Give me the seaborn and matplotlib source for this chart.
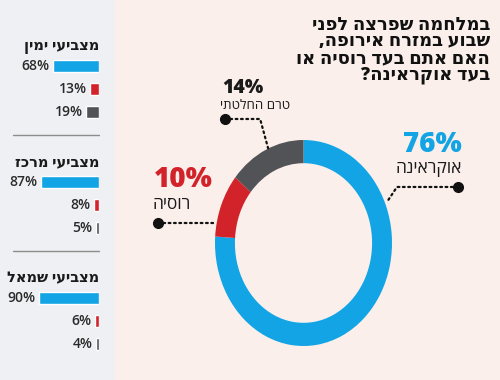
import matplotlib
matplotlib.use('Agg')
import matplotlib.pyplot as plt
from matplotlib.patches import Rectangle
from matplotlib.lines import Line2D
import numpy as np
import seaborn as sns

# data
groups = ['מצביעי ימין', 'מצביעי מרכז', 'מצביעי שמאל']
answers = ['אוקראינה', 'רוסיה', 'טרם החלטתי']
right_votes = [68, 13, 19]
center_votes = [87, 8, 5]
left_votes = [90, 6, 4]
overall = [76, 10, 14]
title_lines = ['במלחמה שפרצה לפני', 'שבוע במזרח אירופה,', 'האם אתם בעד רוסיה או', 'בעד אוקראינה?']

colors = ['#12A4E4', '#D2232A', '#525357']
LEFT_BG = '#EEF0F3'
RIGHT_BG = '#FAEFEB'
FONT = ['Open Sans', 'DejaVu Sans']

sns.set_theme(style='white')
plt.rcParams['font.family'] = FONT

W, H = 500, 380
fig = plt.figure(figsize=(W / 100, H / 100), dpi=100, facecolor=RIGHT_BG)


def rtl(s):
    # matplotlib has no bidi support, so flip Hebrew for display
    return s[::-1]


def fx(px):
    return px / W


def fy(py):
    return 1 - py / H


# left panel background
fig.add_artist(Rectangle((0, 0), fx(115), 1, transform=fig.transFigure,
                         facecolor=LEFT_BG, edgecolor='none', zorder=-1))

# small bar charts per voter group
for i, (grp, vals) in enumerate(zip(groups, [right_votes, center_votes, left_votes])):
    top = 54.5 + 116 * i
    ax = fig.add_axes([fx(32), fy(top + 69), fx(67), 69 / H])
    labels = [rtl(a) for a in answers]
    sns.barplot(x=vals, y=labels, hue=labels, palette=colors, orient='h',
                ax=ax, legend=False, width=0.55, saturation=1)
    ax.set_xlim(100, 0)
    for c in ax.containers:
        ax.bar_label(c, fmt='%d%%', padding=2.5, fontsize=10, color='#2a2a2a',
                     fontweight='semibold')
    ax.set_title(rtl(grp), loc='right', pad=3, fontsize=10.5, fontweight='heavy',
                 color='#1a1a1a')
    ax.axis('off')
    if i < 2:
        yl = top + 80.5
        fig.add_artist(Line2D([fx(13), fx(99)], [fy(yl), fy(yl)], color='#8c8c8c', lw=1))

# donut
pax = fig.add_axes([fx(215), fy(346), fx(177), 206 / H])
pax.pie(overall, colors=colors, startangle=90, counterclock=False,
        wedgeprops=dict(width=0.225, edgecolor='none'))
pax.set_aspect('auto')
pax.set_xlim(-1, 1)
pax.set_ylim(-1, 1)
pax.axis('off')

# leader lines (dot + dotted path), in donut axes units
leaders = [
    [(1.746, 0.544), (1.056, 0.544), (0.943, 0.398)],
    [(-1.644, 0.194), (-1.0, 0.194)],
    [(-0.887, 1.204), (-0.49, 1.204), (-0.40, 0.92)],
]
for pts in leaders:
    xs, ys = zip(*pts)
    pax.plot(xs, ys, color='#111111', lw=1.6, ls=(0, (0.8, 1.6)),
             clip_on=False, dash_capstyle='round')
    pax.plot(xs[0], ys[0], 'o', color='#111111', ms=7, clip_on=False)

# donut labels
pct_txt = [f'{v}%' for v in overall]
fig.text(fx(462), fy(144), pct_txt[0], ha='right', va='center', fontsize=20,
         fontweight='heavy', color=colors[0])
fig.text(fx(462), fy(169), rtl(answers[0]), ha='right', va='center', fontsize=12.5,
         color='#1a1a1a')
fig.text(fx(154), fy(180), pct_txt[1], ha='left', va='center', fontsize=20,
         fontweight='heavy', color=colors[1])
fig.text(fx(152), fy(205), rtl(answers[1]), ha='left', va='center', fontsize=12.5,
         color='#1a1a1a')
fig.text(fx(222), fy(88), pct_txt[2], ha='left', va='center', fontsize=14,
         fontweight='heavy', color='#1a1a1a')
fig.text(fx(220), fy(105), rtl(answers[2]), ha='left', va='center', fontsize=9.5,
         color='#1a1a1a')

# question title (one multi-line block)
fig.text(fx(490), fy(50.5), '\n'.join(rtl(l) for l in title_lines), ha='right',
         va='center', multialignment='right', linespacing=0.98,
         fontsize=13, fontweight='heavy', color='#111111')

fig.savefig('out.png', dpi=100, facecolor=RIGHT_BG)
